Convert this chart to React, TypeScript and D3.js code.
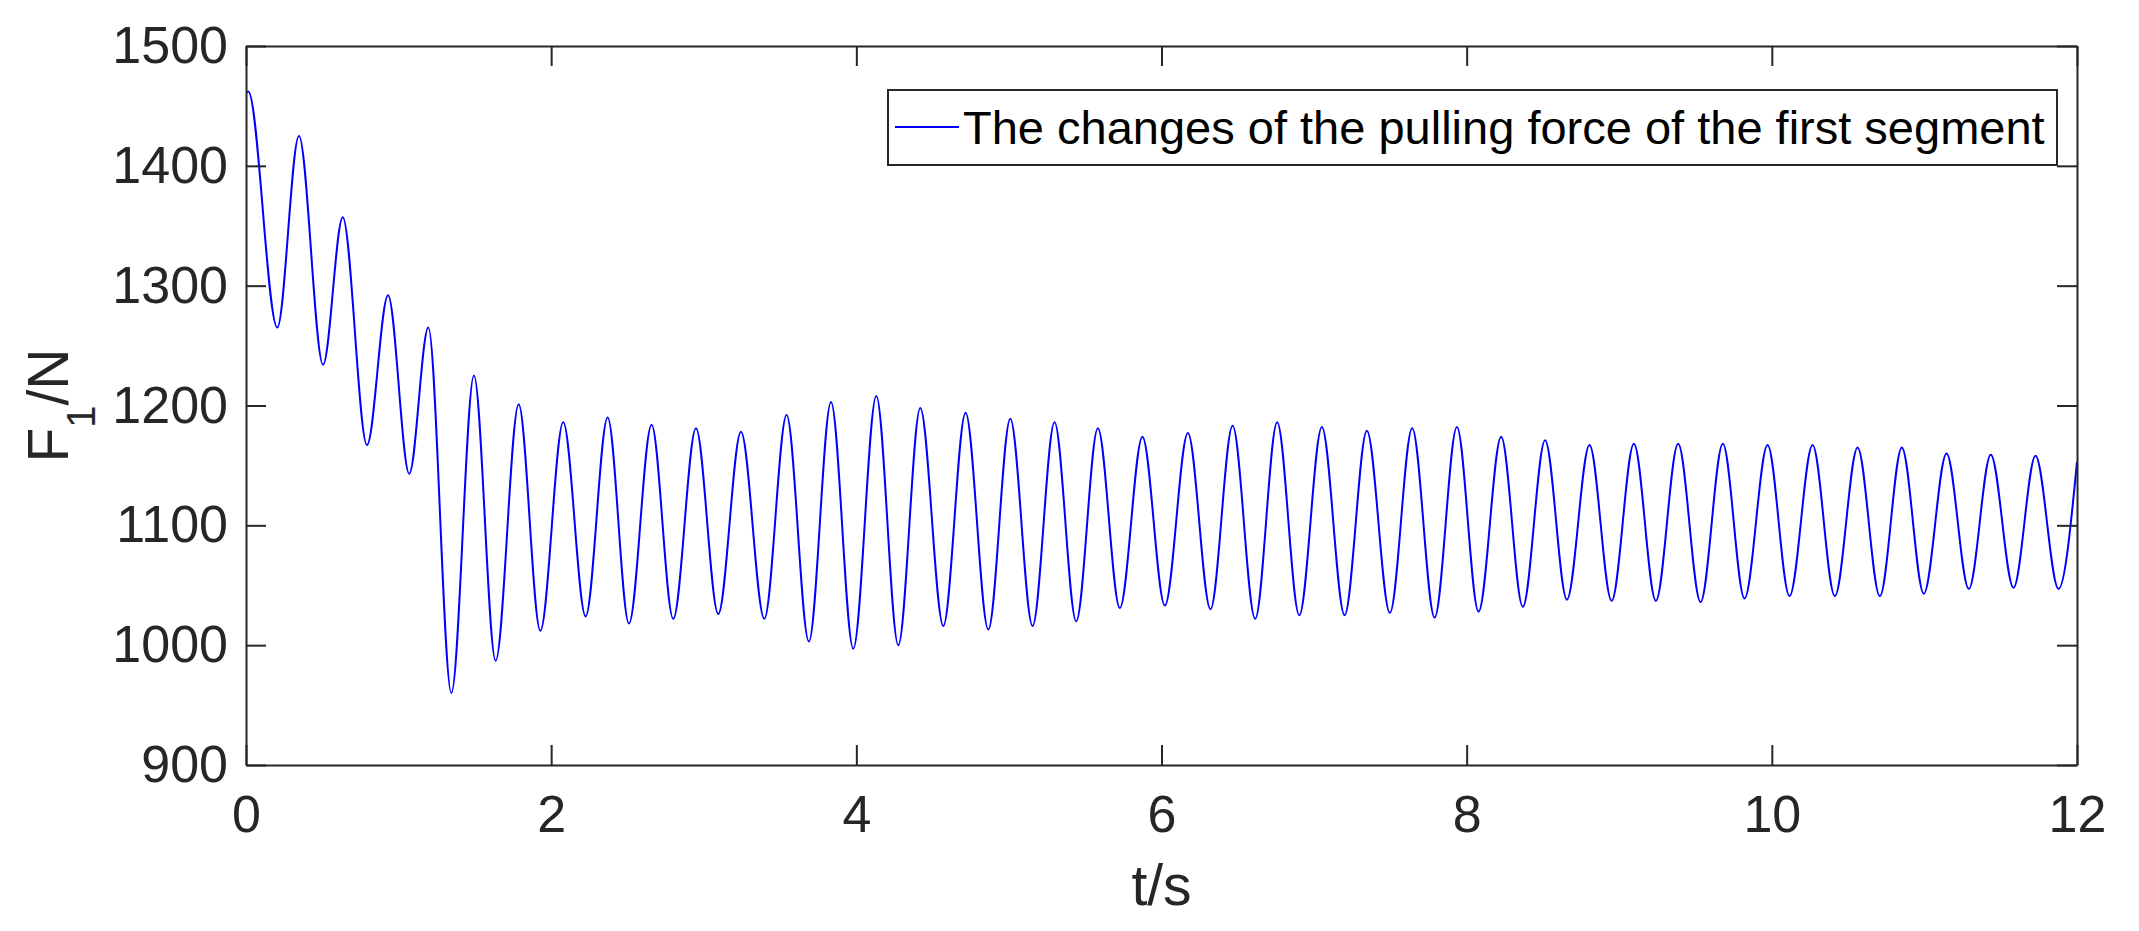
import React, { useEffect, useRef } from "react";
import * as d3 from "d3";

// F1 trace, peaks and troughs (t in s, F in N)
const timeS = [
  0, 0.015, 0.205, 0.347, 0.505, 0.634, 0.793, 0.931, 1.07, 1.195,
  1.346, 1.494, 1.636, 1.787, 1.929, 2.079, 2.226, 2.37, 2.51, 2.658,
  2.8, 2.949, 3.095, 3.244, 3.397, 3.543, 3.689, 3.834, 3.98, 4.131,
  4.275, 4.419, 4.57, 4.716, 4.865, 5.009, 5.155, 5.299, 5.441, 5.583,
  5.727, 5.875, 6.022, 6.173, 6.321, 6.466, 6.614, 6.758, 6.903, 7.051,
  7.2, 7.346, 7.497, 7.643, 7.79, 7.936, 8.078, 8.226, 8.368, 8.514,
  8.657, 8.805, 8.95, 9.096, 9.24, 9.386, 9.533, 9.679, 9.821, 9.972,
  10.116, 10.267, 10.413, 10.562, 10.708, 10.852, 10.996, 11.145, 11.291, 11.435,
  11.584, 11.728, 11.879, 12.0,
];
const forceN = [
  1461, 1462, 1265, 1425, 1234, 1357, 1167, 1292, 1143, 1265,
  960, 1225, 987, 1201, 1012, 1186, 1024, 1190, 1018, 1184,
  1022, 1181, 1026, 1178, 1022, 1192, 1003, 1203, 997, 1208,
  1000, 1198, 1016, 1194, 1013, 1189, 1016, 1186, 1020, 1181,
  1031, 1174, 1033, 1177, 1030, 1183, 1022, 1186, 1025, 1182,
  1025, 1179, 1027, 1181, 1023, 1182, 1028, 1174, 1032, 1171,
  1038, 1167, 1037, 1168, 1037, 1168, 1036, 1168, 1039, 1167,
  1041, 1167, 1041, 1165, 1041, 1165, 1043, 1160, 1047, 1159,
  1048, 1158, 1047, 1153,
];

const xTicks = [0, 2, 4, 6, 8, 10, 12];
const yTicks = [900, 1000, 1100, 1200, 1300, 1400, 1500];
const legendLabel = "The changes of the pulling force of the first segment";

const W = 2139;
const H = 931;
const margin = { top: 46, right: 62, bottom: 166, left: 246 };
const axisColor = "#262626";
const font = "'Liberation Sans', Arial, Helvetica, sans-serif";

export default function App() {
  const svgRef = useRef<SVGSVGElement | null>(null);

  useEffect(() => {
    document.body.style.margin = "0";
    if (!svgRef.current) return;
    const svg = d3.select(svgRef.current);
    svg.selectAll("*").remove();

    const x = d3
      .scaleLinear()
      .domain([0, 12])
      .range([margin.left, W - margin.right]);
    const y = d3
      .scaleLinear()
      .domain([900, 1500])
      .range([H - margin.bottom, margin.top]);

    const data = timeS.map((t, i) => ({ t, f: forceN[i] }));

    svg.append("rect").attr("width", W).attr("height", H).attr("fill", "#fff");

    svg
      .append("clipPath")
      .attr("id", "plot-clip")
      .append("rect")
      .attr("x", margin.left)
      .attr("y", margin.top)
      .attr("width", W - margin.left - margin.right)
      .attr("height", H - margin.top - margin.bottom);

    const line = d3
      .line<{ t: number; f: number }>()
      .x((d) => x(d.t))
      .y((d) => y(d.f))
      .curve(d3.curveMonotoneX);

    svg
      .append("path")
      .datum(data)
      .attr("clip-path", "url(#plot-clip)")
      .attr("fill", "none")
      .attr("stroke", "#0000ff")
      .attr("stroke-width", 2)
      .attr("d", line);

    // axes (ticks inward, box on)
    const fmt = d3.format("d");
    const gx = svg
      .append("g")
      .attr("transform", `translate(0,${H - margin.bottom})`)
      .call(
        d3.axisBottom(x).tickValues(xTicks).tickFormat(fmt).tickSizeInner(-20).tickSizeOuter(0).tickPadding(30)
      );
    const gxTop = svg
      .append("g")
      .attr("transform", `translate(0,${margin.top})`)
      .call(d3.axisTop(x).tickValues(xTicks).tickSizeInner(-20).tickSizeOuter(0).tickFormat(() => ""));
    const gy = svg
      .append("g")
      .attr("transform", `translate(${margin.left},0)`)
      .call(
        d3.axisLeft(y).tickValues(yTicks).tickFormat(fmt).tickSizeInner(-20).tickSizeOuter(0).tickPadding(18)
      );
    const gyRight = svg
      .append("g")
      .attr("transform", `translate(${W - margin.right},0)`)
      .call(d3.axisRight(y).tickValues(yTicks).tickSizeInner(-20).tickSizeOuter(0).tickFormat(() => ""));

    [gx, gxTop, gy, gyRight].forEach((g) => {
      g.selectAll(".domain, line").attr("stroke", axisColor).attr("stroke-width", 2);
      g.selectAll("text")
        .attr("font-size", 52)
        .attr("font-family", font)
        .attr("fill", axisColor);
    });

    // axis labels
    svg
      .append("text")
      .attr("x", (margin.left + W - margin.right) / 2)
      .attr("y", 905)
      .attr("text-anchor", "middle")
      .attr("font-size", 57)
      .attr("font-family", font)
      .attr("fill", axisColor)
      .text("t/s");

    const yl = svg
      .append("text")
      .attr("transform", `translate(68,${(margin.top + H - margin.bottom) / 2}) rotate(-90)`)
      .attr("text-anchor", "middle")
      .attr("font-size", 57)
      .attr("font-family", font)
      .attr("fill", axisColor);
    yl.append("tspan").text("F");
    yl.append("tspan").attr("font-size", 40).attr("dy", 27).text("1");
    yl.append("tspan").attr("dy", -27).text("/N");

    // legend
    const lg = svg.append("g");
    lg.append("rect")
      .attr("x", 888)
      .attr("y", 90)
      .attr("width", 1169)
      .attr("height", 75)
      .attr("fill", "#fff")
      .attr("stroke", axisColor)
      .attr("stroke-width", 2);
    lg.append("line")
      .attr("x1", 895)
      .attr("x2", 959)
      .attr("y1", 127)
      .attr("y2", 127)
      .attr("stroke", "#0000ff")
      .attr("stroke-width", 2);
    lg.append("text")
      .attr("x", 963)
      .attr("y", 144)
      .attr("font-size", 47)
      .attr("font-family", font)
      .attr("fill", "#000")
      .text(legendLabel);
  }, []);

  return (
    <svg
      ref={svgRef}
      width={W}
      height={H}
      viewBox={`0 0 ${W} ${H}`}
      style={{ display: "block", position: "absolute", left: 0, top: 0 }}
      role="img"
      aria-label="Pulling force of the first segment"
    />
  );
}
